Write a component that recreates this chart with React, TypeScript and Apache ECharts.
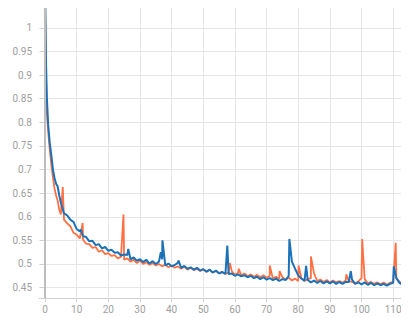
import React, { useEffect, useRef } from "react";
import * as echarts from "echarts";

// baseline values at x = 0,1,2,...,116
const blueBase = [
  1.1, 0.795, 0.73, 0.682, 0.664, 0.63, 0.607, 0.603, 0.594, 0.589,
  0.574, 0.569, 0.559, 0.557, 0.548, 0.549, 0.54, 0.542, 0.533, 0.536,
  0.528, 0.53, 0.524, 0.525, 0.518, 0.52, 0.519, 0.51, 0.514, 0.507,
  0.51, 0.504, 0.509, 0.501, 0.506, 0.5, 0.505, 0.51, 0.497, 0.501,
  0.495, 0.498, 0.503, 0.492, 0.496, 0.49, 0.493, 0.488, 0.492, 0.486,
  0.489, 0.484, 0.488, 0.482, 0.486, 0.48, 0.483, 0.479, 0.479, 0.48,
  0.475, 0.478, 0.474, 0.476, 0.472, 0.475, 0.47, 0.473, 0.468, 0.472,
  0.467, 0.47, 0.466, 0.469, 0.464, 0.468, 0.466, 0.475, 0.505, 0.49,
  0.476, 0.469, 0.465, 0.466, 0.461, 0.465, 0.46, 0.464, 0.459, 0.463,
  0.459, 0.463, 0.458, 0.462, 0.458, 0.462, 0.462, 0.467, 0.458, 0.461,
  0.457, 0.461, 0.456, 0.46, 0.455, 0.459, 0.455, 0.458, 0.454, 0.458,
  0.46, 0.47, 0.46, 0.456, 0.453, 0.456, 0.452,
];
const orangeBase = [
  1.06, 0.78, 0.71, 0.66, 0.634, 0.605, 0.594, 0.586, 0.58, 0.566,
  0.562, 0.554, 0.552, 0.543, 0.542, 0.534, 0.536, 0.526, 0.529, 0.521,
  0.523, 0.517, 0.519, 0.512, 0.515, 0.509, 0.512, 0.505, 0.509, 0.502,
  0.507, 0.5, 0.504, 0.498, 0.502, 0.497, 0.5, 0.495, 0.499, 0.493,
  0.497, 0.492, 0.495, 0.49, 0.494, 0.488, 0.492, 0.487, 0.49, 0.485,
  0.489, 0.483, 0.488, 0.482, 0.485, 0.481, 0.483, 0.479, 0.482, 0.485,
  0.477, 0.481, 0.476, 0.48, 0.474, 0.478, 0.473, 0.477, 0.472, 0.476,
  0.471, 0.475, 0.469, 0.473, 0.468, 0.472, 0.467, 0.471, 0.465, 0.469,
  0.464, 0.47, 0.464, 0.468, 0.47, 0.48, 0.464, 0.467, 0.462, 0.466,
  0.461, 0.465, 0.461, 0.464, 0.46, 0.465, 0.463, 0.462, 0.459, 0.463,
  0.47, 0.468, 0.459, 0.462, 0.458, 0.461, 0.457, 0.461, 0.456, 0.46,
  0.462, 0.47, 0.462, 0.461, 0.455, 0.458, 0.454,
];
// extra points between the integer steps: [x, y]
const blueExtra: [number, number][] = [
  [0.3, 0.93], [0.6, 0.85], [1.5, 0.756], [2.5, 0.7], [3.5, 0.67], [4.5, 0.645],
  [11.3, 0.573], [26.3, 0.532], [36.6, 0.525], [37.1, 0.55], [42.2, 0.507],
  [57.6, 0.539], [77.2, 0.553], [82.5, 0.496], [96.6, 0.485], [110.2, 0.495],
];
const orangeExtra: [number, number][] = [
  [0.3, 0.9], [0.6, 0.82], [1.5, 0.742], [2.5, 0.684], [3.5, 0.645], [4.5, 0.615],
  [5.6, 0.663], [11.9, 0.587], [24.8, 0.605], [58.4, 0.502], [61.2, 0.49],
  [71.0, 0.497], [74.1, 0.485], [80.1, 0.497], [84.0, 0.516], [95.2, 0.478],
  [100.2, 0.553], [110.8, 0.545], [113.0, 0.47],
];
const xTicks = [0, 10, 20, 30, 40, 50, 60, 70, 80, 90, 100, 110];
const yTicks = [0.45, 0.5, 0.55, 0.6, 0.65, 0.7, 0.75, 0.8, 0.85, 0.9, 0.95, 1];

function build(base: number[], extra: [number, number][]) {
  const pts: [number, number][] = base.map((v, i) => [i, v]);
  return pts.concat(extra).sort((a, b) => a[0] - b[0]);
}

export default function App() {
  const ref = useRef<HTMLDivElement>(null);
  useEffect(() => {
    if (!ref.current) return;
    const chart = echarts.init(ref.current, null, { renderer: "svg" });
    const labelStyle = { color: "#9e9e9e", fontSize: 10, fontFamily: "Roboto" };
    chart.setOption({
      animation: false,
      grid: { left: 31, top: 0, right: 0, bottom: 20, containLabel: false },
      xAxis: {
        type: "value",
        min: -1.9,
        max: 115.0,
        axisLine: { show: true, lineStyle: { color: "#d0d0d0" } },
        axisTick: { show: true, customValues: xTicks, length: 4, lineStyle: { color: "#d0d0d0" } },
        axisLabel: { customValues: xTicks, ...labelStyle, margin: 6 },
        splitLine: { show: true, lineStyle: { color: "#e6e6e6" } },
      },
      yAxis: {
        type: "value",
        min: 0.428,
        max: 1.042,
        axisLine: { show: true, lineStyle: { color: "#e0e0e0" } },
        axisTick: { show: true, customValues: yTicks, length: 5, lineStyle: { color: "#d0d0d0" } },
        axisLabel: { customValues: yTicks, ...labelStyle, margin: 7 },
        splitLine: { show: true, lineStyle: { color: "#e6e6e6" } },
      },
      series: [
        {
          type: "line",
          data: build(orangeBase, orangeExtra),
          showSymbol: false,
          symbol: "none",
          lineStyle: { color: "#ff7043", width: 1.8 },
          clip: true,
          markLine: {
            silent: true,
            symbol: "none",
            label: { show: false },
            lineStyle: { color: "#bdbdbd", width: 2, type: "solid" },
            data: [{ xAxis: 0 }],
          },
          z: 2,
        },
        {
          type: "line",
          data: build(blueBase, blueExtra),
          showSymbol: false,
          symbol: "none",
          lineStyle: { color: "#1b72b8", width: 2 },
          clip: true,
          z: 3,
        },
      ],
    });
    return () => chart.dispose();
  }, []);
  return <div ref={ref} style={{ width: 401, height: 310 }} />;
}
